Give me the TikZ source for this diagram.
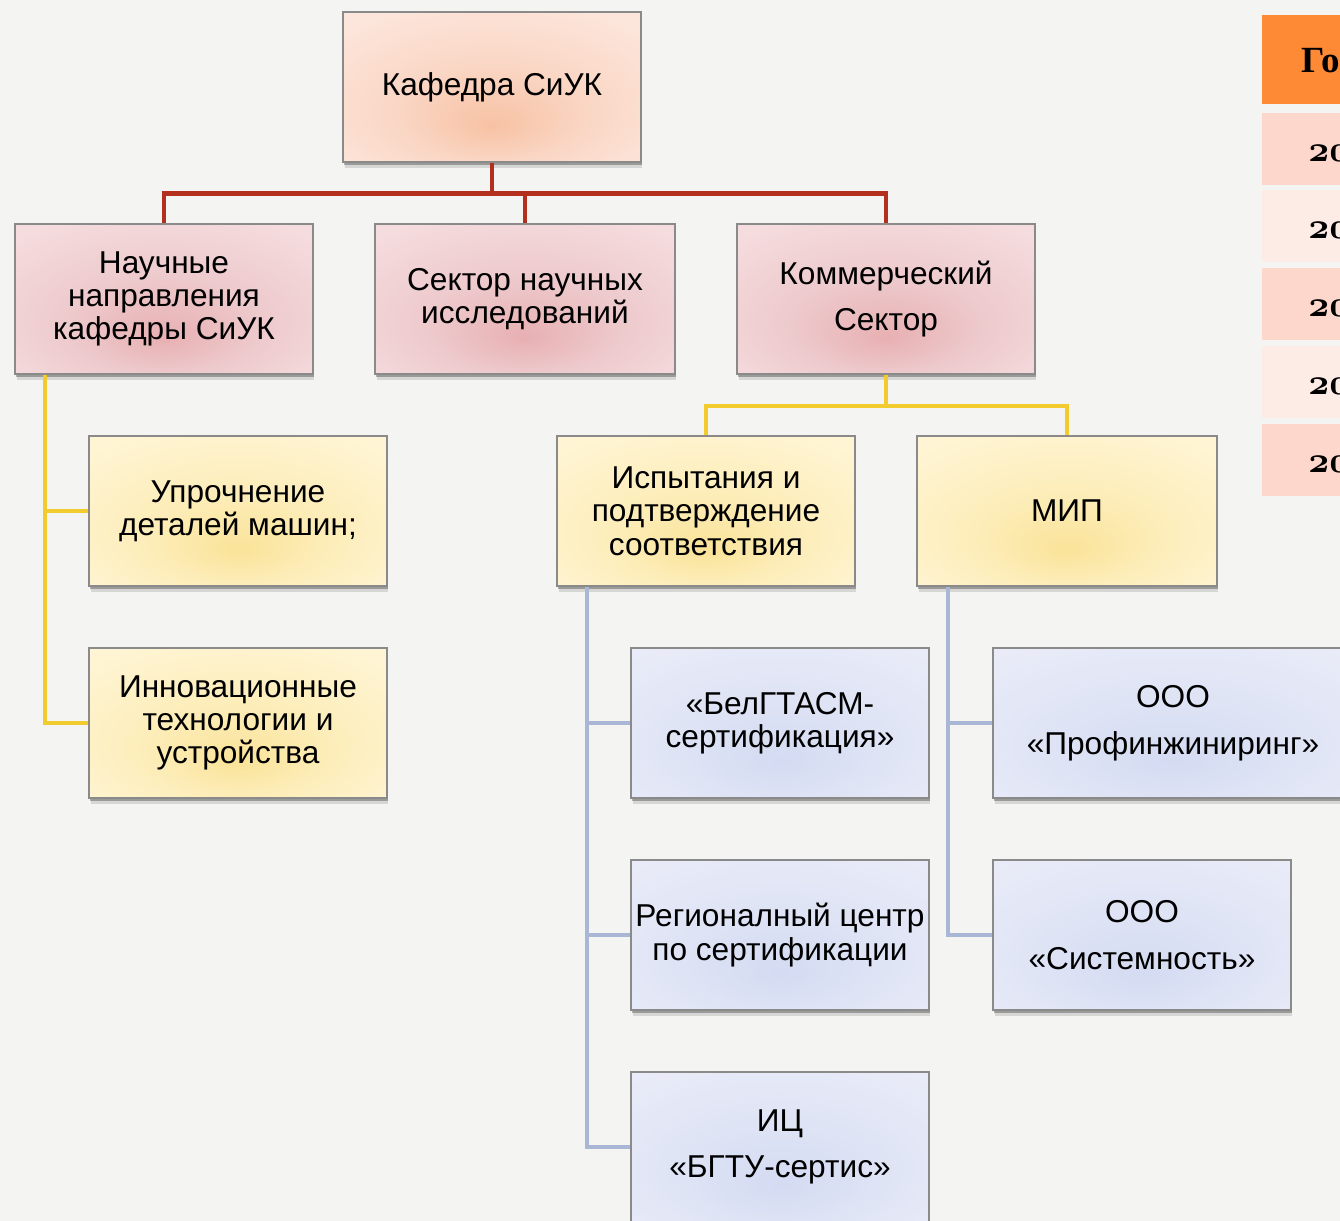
\documentclass[tikz,border=0pt]{standalone}
\usepackage{fontspec}
\newfontfamily\boxfont{Liberation Sans}
\newfontfamily\headfont{Liberation Serif}
\usetikzlibrary{calc,shadows}

\definecolor{bgpaper}{HTML}{F4F4F2}
\definecolor{redwire}{HTML}{B3301E}
\definecolor{yelwire}{HTML}{F2CB2E}
\definecolor{bluwire}{HTML}{A9B6D6}
\definecolor{boxedge}{HTML}{8A8A8A}
\definecolor{tabhead}{HTML}{FF8A36}
\definecolor{tabdark}{HTML}{FDD7CB}
\definecolor{tablight}{HTML}{FDEBE5}

\pgfdeclareradialshading{peachglow}{\pgfpoint{0bp}{-13bp}}{rgb(0bp)=(0.97,0.76,0.64); rgb(16bp)=(0.98,0.84,0.77); rgb(34bp)=(0.99,0.90,0.86); rgb(50bp)=(0.99,0.92,0.89)}
\pgfdeclareradialshading{pinkglow}{\pgfpoint{0bp}{-13bp}}{rgb(0bp)=(0.91,0.69,0.70); rgb(16bp)=(0.93,0.79,0.80); rgb(34bp)=(0.96,0.86,0.87); rgb(50bp)=(0.97,0.89,0.89)}
\pgfdeclareradialshading{yelglow}{\pgfpoint{0bp}{-13bp}}{rgb(0bp)=(0.98,0.89,0.60); rgb(16bp)=(0.99,0.93,0.73); rgb(34bp)=(1,0.96,0.83); rgb(50bp)=(1,0.97,0.87)}
\pgfdeclareradialshading{bluglow}{\pgfpoint{0bp}{-13bp}}{rgb(0bp)=(0.83,0.86,0.95); rgb(16bp)=(0.87,0.89,0.96); rgb(34bp)=(0.91,0.92,0.97); rgb(50bp)=(0.93,0.94,0.98)}

\tikzset{
  orgbox/.style={draw=boxedge, line width=0.9pt, minimum width=5.96cm, minimum height=3cm,
    inner sep=0pt, align=center, font=\boxfont\fontsize{18}{19}\selectfont,
    drop shadow={shadow xshift=0.03cm, shadow yshift=-0.13cm, opacity=0.12, fill=black},
    drop shadow={shadow xshift=0.02cm, shadow yshift=-0.07cm, opacity=0.28, fill=black}},
  loose/.style={font=\boxfont\fontsize{18}{26.5}\selectfont},
  peach/.style={shading=peachglow},
  pinkish/.style={shading=pinkglow},
  yel/.style={shading=yelglow},
  blu/.style={shading=bluglow},
  redline/.style={draw=redwire, line width=2.8pt},
  yelline/.style={draw=yelwire, line width=2.3pt},
  bluline/.style={draw=bluwire, line width=2.3pt},
  tabnum/.style={anchor=west, inner sep=0pt, font=\usefont{OML}{cmm}{b}{it}\fontsize{20.74}{20.74}\selectfont}
}

\begin{document}
\begin{tikzpicture}[x=0.02cm, y=-0.02cm]
		%%%%% START %%%%%
		\useasboundingbox (0,0) rectangle (1340,1221);
		\fill[bgpaper] (0,0) rectangle (1340,1221);
		
		% top level
		\node[orgbox,peach] (kaf) at (492,87) {Кафедра СиУК};
		
		% second level
		\node[orgbox,pinkish] (nauch) at (164,299) {Научные\\направления\\кафедры СиУК};
		\node[orgbox,pinkish,minimum width=6cm] (sni) at (525,299) {Сектор научных\\исследований};
		\node[orgbox,pinkish,loose] (kom) at (886,299) {Коммерческий\\Сектор};
		
		% third level
		\node[orgbox,yel] (upr) at (238,511) {Упрочнение\\деталей машин;};
		\node[orgbox,yel] (inn) at (238,723) {Инновационные\\технологии и\\устройства};
		\node[orgbox,yel] (isp) at (706,511) {Испытания и\\подтверждение\\соответствия};
		\node[orgbox,yel,minimum width=6cm] (mip) at (1067,511) {МИП};
		
		% fourth level
		\node[orgbox,blu] (belg) at (780,723) {«БелГТАСМ-\\сертификация»};
		\node[orgbox,blu] (reg) at (780,935) {Регионалный центр\\по сертификации};
		\node[orgbox,blu,loose] (ic) at (780,1147) {ИЦ\\«БГТУ-сертис»};
		\node[orgbox,blu,loose,minimum width=7.2cm] (prof) at (1173,723) {ООО\\«Профинжиниринг»};
		\node[orgbox,blu,loose] (sist) at (1142,935) {ООО\\«Системность»};
		
		% red links
		\draw[redline] (kaf.south) -- ++(0,31) coordinate (rj) -| (nauch.north);
		\draw[redline] (rj) -| (sni.north);
		\draw[redline] (rj) -| (kom.north);
		
		% yellow links
		\coordinate (nb) at ($(nauch.south west)+(31,0)$);
		\draw[yelline] (nb) |- (upr.west);
		\draw[yelline] (nb) |- (inn.west);
		\draw[yelline] (kom.south) -- ++(0,31) coordinate (kj) -| (isp.north);
		\draw[yelline] (kj) -| (mip.north);
		
		% blue links
		\coordinate (ib) at ($(isp.south west)+(31,0)$);
		\draw[bluline] (ib) |- (belg.west);
		\draw[bluline] (ib) |- (reg.west);
		\draw[bluline] (ib) |- (ic.west);
		\coordinate (mb) at ($(mip.south west)+(32,0)$);
		\draw[bluline] (mb) |- (prof.west);
		\draw[bluline] (mb) |- (sist.west);
		
		% table at the right edge
		\fill[tabhead] (1262,15) rectangle (1345,104);
		\node[anchor=west, inner sep=0pt, font=\headfont\bfseries\fontsize{21}{21}\selectfont] (god) at (1301,61) {Го};
		\foreach \y/\c [count=\i] in {113/tabdark,190/tablight,268/tabdark,346/tablight,424/tabdark}{
			\fill[\c] (1262,\y) rectangle (1345,\y+72);
			\node[tabnum] (yr\i) at (1308,\y+40) {20};
		}
		%%%%% END %%%%%
	\end{tikzpicture}
\end{document}
